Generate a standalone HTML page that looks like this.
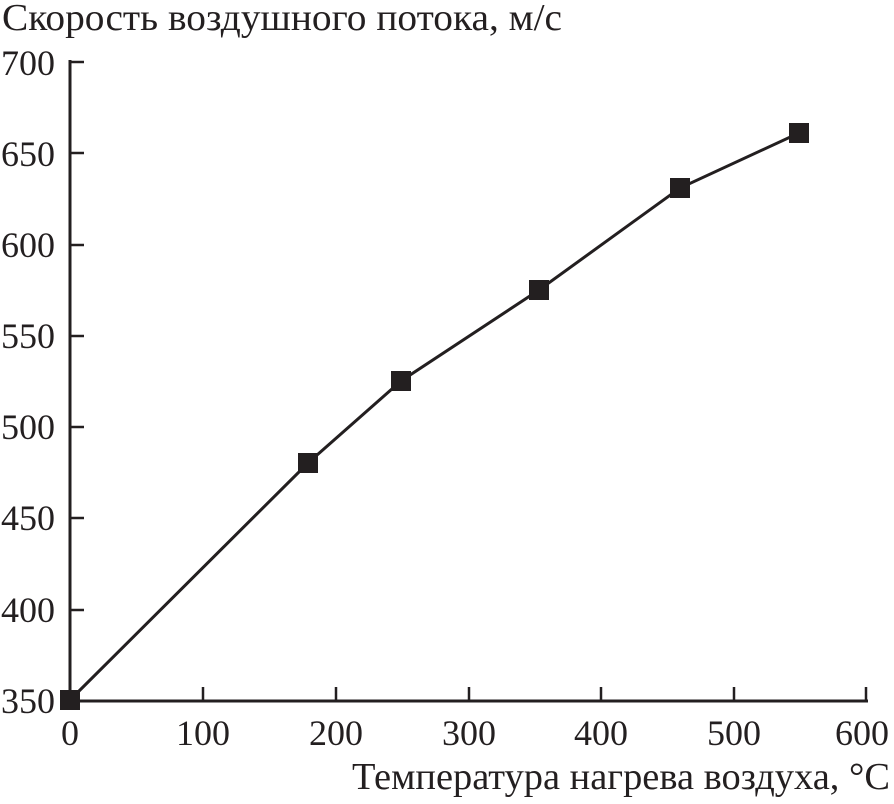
<!DOCTYPE html>
<html><head><style>body{margin:0;background:#fff}</style></head><body>
<svg width="894" height="799" viewBox="0 0 894 799" xmlns="http://www.w3.org/2000/svg" font-family="Liberation Serif, serif" fill="#231f20">
<g stroke="#231f20" stroke-width="3" fill="none">
<line x1="70" y1="60" x2="70" y2="701"/>
<line x1="69" y1="701" x2="868" y2="701"/>
<g stroke-width="2.5">
<line x1="70" y1="62" x2="84" y2="62"/><line x1="70" y1="153" x2="84" y2="153"/>
<line x1="70" y1="245" x2="84" y2="245"/><line x1="70" y1="336" x2="84" y2="336"/>
<line x1="70" y1="427" x2="84" y2="427"/><line x1="70" y1="518" x2="84" y2="518"/>
<line x1="70" y1="610" x2="84" y2="610"/>
<line x1="203" y1="687" x2="203" y2="701"/><line x1="336" y1="687" x2="336" y2="701"/>
<line x1="469" y1="687" x2="469" y2="701"/><line x1="601" y1="687" x2="601" y2="701"/>
<line x1="734" y1="687" x2="734" y2="701"/><line x1="866" y1="687" x2="866" y2="701"/>
</g>
<polyline points="70,700 308,463 401,381 539,290 680,188 799,133"/>
</g>
<g>
<rect x="60" y="690" width="20" height="20"/><rect x="298" y="453" width="20" height="20"/>
<rect x="391" y="371" width="20" height="20"/><rect x="529" y="280" width="20" height="20"/>
<rect x="670" y="178" width="20" height="20"/><rect x="789" y="123" width="20" height="20"/>
</g>
<g font-size="36" text-anchor="end">
<text x="55" y="75">700</text><text x="55" y="166">650</text><text x="55" y="257">600</text>
<text x="55" y="348">550</text><text x="55" y="439">500</text><text x="55" y="530">450</text>
<text x="55" y="622">400</text><text x="55" y="713">350</text>
</g>
<g font-size="36" text-anchor="middle">
<text x="70" y="745">0</text><text x="203" y="745">100</text><text x="336" y="745">200</text>
<text x="469" y="745">300</text><text x="601" y="745">400</text><text x="734" y="745">500</text>
<text x="862" y="745">600</text>
</g>
<text x="2" y="30" font-size="38" textLength="560" lengthAdjust="spacingAndGlyphs">Скорость воздушного потока, м/с</text>
<text x="352" y="789" font-size="38" textLength="538" lengthAdjust="spacingAndGlyphs">Температура нагрева воздуха, °С</text>
</svg>
</body></html>
